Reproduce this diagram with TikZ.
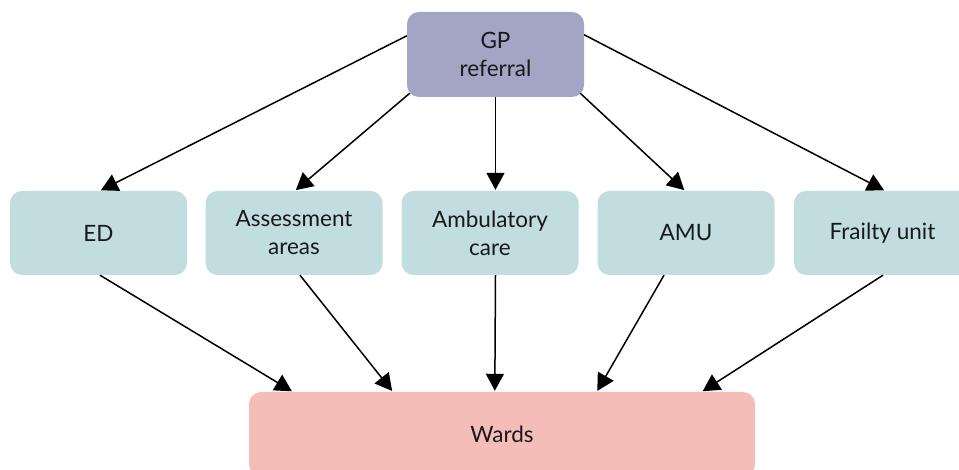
\documentclass[tikz,border=0pt]{standalone}
\usepackage{fontspec}
\setmainfont{Lato}
\usetikzlibrary{arrows.meta,calc}
\definecolor{gpc}{RGB}{164,165,197}
\definecolor{midc}{RGB}{193,221,224}
\definecolor{wardc}{RGB}{244,189,184}
\begin{document}
\begin{tikzpicture}[x=1pt,y=1pt,
  box/.style={rounded corners=12pt,minimum width=177pt,minimum height=84pt,inner sep=0pt,align=center,font=\fontsize{22.5}{28}\selectfont,text=black!90},
  midbox/.style={box,fill=midc},
  arr/.style={line width=1.5pt,-{Triangle[length=17pt,width=18pt]},shorten >=1pt}]
\useasboundingbox (0,0) rectangle (959,470);
\node[box,fill=gpc,minimum height=85pt] (gp) at (495.5,415.5) {GP\\referral};
\node[midbox] (ed) at (98.5,237) {ED};
\node[midbox] (aa) at (294,237) {Assessment\\areas};
\node[midbox] (ac) at (490,237) {Ambulatory\\care};
\node[midbox] (amu) at (686,237) {AMU};
\node[midbox] (fu) at (882.5,237) {Frailty unit};
\node[box,fill=wardc,minimum width=506pt,minimum height=84pt] (wards) at (502,36) {Wards};
% GP to middle
\draw[arr] ($(gp.north west)+(0,-24)$) -- ($(ed.north)+(1.5,0)$);
\draw[arr] ($(gp.south west)+(3,4)$) -- ($(aa.north)+(1,0)$);
\draw[arr] (gp.south) -- ($(ac.north)+(5.5,0)$);
\draw[arr] ($(gp.south east)+(-4,4)$) -- ($(amu.north)+(-1,0)$);
\draw[arr] ($(gp.north east)+(0,-23)$) -- ($(fu.north)+(2.5,0)$);
% middle to wards
\draw[arr] ($(ed.south)+(1.5,0)$) -- ($(wards.north west)+(44,0)$);
\draw[arr] ($(aa.south)+(6,0)$) -- ($(wards.north west)+(144,0)$);
\draw[arr] ($(ac.south)+(5.5,0)$) -- ($(wards.north west)+(246,0)$);
\draw[arr] ($(amu.south)+(-22,0)$) -- ($(wards.north west)+(348,0)$);
\draw[arr] ($(fu.south)+(0.5,0)$) -- ($(wards.north west)+(453,0)$);
\end{tikzpicture}
\end{document}
